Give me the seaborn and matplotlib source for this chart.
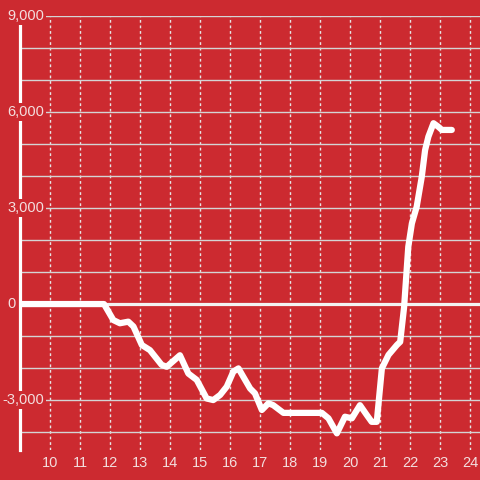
import numpy as np
import pandas as pd
import matplotlib
matplotlib.use("Agg")
import matplotlib.pyplot as plt
import seaborn as sns

# hour of day vs running total
hours = [9.0, 11.8, 12.11, 12.33, 12.61, 12.78, 13.06, 13.33, 13.72, 13.89,
         14.33, 14.61, 14.89, 15.22, 15.44, 15.67, 15.89, 16.11, 16.28, 16.44,
         16.67, 16.83, 17.06, 17.28, 17.44, 17.78, 19.06, 19.28, 19.56, 19.83,
         20.06, 20.33, 20.56, 20.72, 20.89, 21.06, 21.28, 21.56, 21.67, 21.8,
         21.94, 22.06, 22.22, 22.39, 22.5, 22.61, 22.78, 22.94, 23.06, 23.39]
totals = [0, 0, -500, -600, -550, -700, -1280, -1440, -1900, -1960,
          -1600, -2170, -2370, -2950, -3000, -2840, -2580, -2110, -2010, -2270,
          -2640, -2790, -3310, -3100, -3160, -3400, -3400, -3570, -4040, -3520,
          -3570, -3160, -3470, -3680, -3680, -2010, -1590, -1280, -1180, -100,
          1790, 2520, 3040, 3980, 4810, 5230, 5650, 5540, 5440, 5440]

x_ticks = list(range(10, 25))
y_grid = list(range(-4000, 10000, 1000))
y_labels = [9000, 6000, 3000, 0, -3000]

bg = "#cc2a30"
fg = "#f3dede"

df = pd.DataFrame({"hour": hours, "total": totals})

sns.set_style("white")
plt.rcParams["font.family"] = ["Liberation Sans", "DejaVu Sans"]

fig = plt.figure(figsize=(4.8, 4.8), dpi=100, facecolor=bg)
ax = fig.add_axes([20 / 480, 30 / 480, 460 / 480, 434 / 480])
ax.set_facecolor(bg)

ax.set_xlim(9.0, 24.33)
ax.set_ylim(-4560, 9000)

ax.set_xticks(x_ticks)
ax.set_yticks(y_grid)
ax.tick_params(axis="x", length=0, pad=4, labelsize=10.5, labelcolor=fg)
ax.tick_params(axis="y", length=0, labelleft=False)

ax.grid(axis="y", color="#d4d4d4", linewidth=1, linestyle="-")
ax.grid(axis="x", color="#e6e6e6", linewidth=1, linestyle=(0, (2, 2)))
ax.set_axisbelow(True)

for s in ["top", "right", "bottom"]:
    ax.spines[s].set_visible(False)
ax.spines["left"].set_color("white")
ax.spines["left"].set_linewidth(2.3)

ax.axhline(0, color="#f2f2f2", linewidth=2.3, zorder=2)

sns.lineplot(data=df, x="hour", y="total", ax=ax, color="white",
             linewidth=4.5, zorder=3)

for v in y_labels:
    left_px = 2 if v < 0 else 7
    ax.annotate(f"{v:,}", xy=(0, v), xycoords=ax.get_yaxis_transform(),
                xytext=(left_px - 20, 0), textcoords="offset pixels",
                ha="left", va="center", fontsize=10.5, color=fg, zorder=10,
                annotation_clip=False,
                bbox=dict(facecolor=bg, edgecolor="none", pad=1.5))

ax.set_xlabel("")
ax.set_ylabel("")

fig.savefig("out.png", dpi=100, facecolor=bg)
